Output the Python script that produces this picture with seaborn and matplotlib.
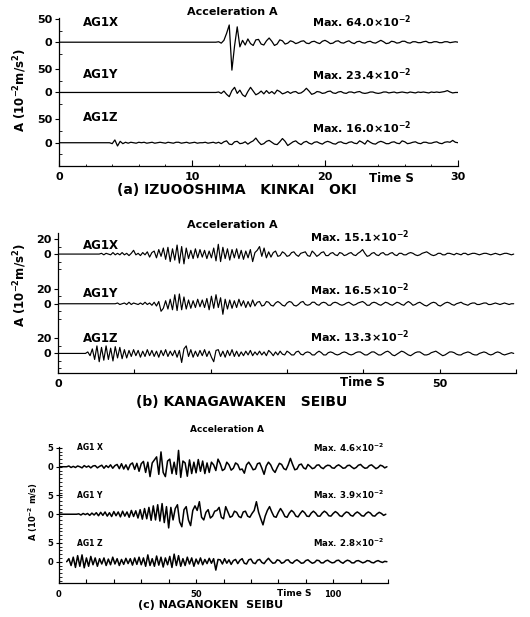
import numpy as np
import pandas as pd
import matplotlib
matplotlib.use("Agg")
import matplotlib.pyplot as plt
import seaborn as sns

# ---------------- data (10^-2 m/s^2 ; panel c: 10^-2 m/s) ----------------
trace_names = ["AG1X", "AG1Y", "AG1Z"]
trace_names_c = ["AG1 X", "AG1 Y", "AG1 Z"]

a_max = ["64.0", "23.4", "16.0"]
b_max = ["15.1", "16.5", "13.3"]
c_max = ["4.6", "3.9", "2.8"]

a_dt = 0.2
a_onset = [11.8, 11.8, 3.8]
a_x = [0, 1, -2, 4, 19, 37, -60, -8, 33, -10,
       4, -6, 7, -3, -7, 5, 6, -4, -6, 3,
       9, 2, -7, -4, 5, 3, -4, -2, 3, 1,
       -3, -1, 2, 3, -2, -3, 1, 2, -1, -3,
       2, 4, 1, -3, -2, 2, 3, -1, -2, 1,
       3, -1, -3, 1, 2, -1, -2, 1, 2, -1,
       -2, 1, 4, 1, -3, -2, 2, 1, -2, -1,
       2, 2, -1, -2, 1, 1, -1, -1, 1, 2,
       -1, -1, 1, 1, -1, -1, 1, 1, -1, 0,
       1, 0]
a_y = [0, 1, -2, 3, -4, -9, 4, 11, -2, 5,
       -5, -9, 2, 11, 3, -5, -2, 3, -3, 4,
       -2, 2, -3, 5, 2, -3, -1, 2, -2, 1,
       2, -2, -1, 3, 9, 3, -4, -2, 2, 1,
       -2, -1, 2, 3, -1, -2, 1, 2, -1, -2,
       1, 1, -1, 1, 2, -1, -2, -1, 1, 1,
       -1, -2, -1, 1, 1, -1, 0, 1, -1, 0,
       1, 0, -1, 1, 0, -1, 1, 0, 1, 0,
       -1, 1, 0, 1, 0, 1, 2, 4, 1, -1,
       0, 0]
a_z = [0, -2, 6, -7, 3, -2, 1, -1, 1, 0,
       -1, 1, 0, 1, -1, 0, 1, -1, 0, 1,
       0, -1, 1, 0, -1, 1, 1, -1, 0, 1,
       -1, 0, 1, -1, 0, 0, 1, -1, 0, 1,
       -1, 1, -2, 2, 4, -3, -4, 2, 3, -2,
       -1, 2, -3, 1, 4, 10, 2, -4, -2, 3,
       5, 1, -3, -4, 2, 9, 3, -6, -2, 2,
       4, -1, -4, 1, 3, -1, -3, 1, 2, -1,
       -3, 1, 3, 1, -2, -3, 1, 2, -1, -2,
       1, 2, -1, -2, 4, 1, -3, 5, 1, -2,
       -3, 1, 3, 1, -2, -2, 1, 2, -1, -2,
       4, 2, -2, -1, 1, 2, -1, -2, 1, 1,
       -1, -1, 1, 2, -1, -2, 1, 2, 1, 5,
       1, 0]

b_dt = 0.3
b_onset = [5.4, 7.5, 3.6]
b_x = [0, 1, -1, 1, 0, -1, 2, -1, 1, -1,
       2, -1, 1, -2, 1, 5, -1, 1, -2, 2,
       -1, 3, -4, 2, 4, -5, 6, -3, 8, -7,
       9, -10, 7, -8, 12, -12, 10, -13, 8, -6,
       5, -6, 7, -5, 6, -4, 5, -6, 4, -5,
       8, -9, 13, -10, 9, -6, 7, -8, 6, -5,
       7, -6, 5, -7, 4, -5, 6, -10, 2, 5,
       10, -3, 8, -5, 3, -4, 2, 4, -3, -2,
       3, 1, -3, -2, 2, 3, -1, -3, 1, 2,
       3, -2, -3, 4, 1, -3, -1, 2, 3, -2,
       -2, 1, 2, -1, -2, 2, 1, -2, -1, 1,
       2, -1, -2, 1, 3, 6, 1, -3, -2, 1,
       2, -1, -2, 1, 2, -1, -1, 1, 2, -1,
       -2, 1, 1, -1, -1, 1, 2, 1, -1, -2,
       -1, 1, 2, 3, 1, -1, -2, -1, 1, 1,
       -1, -1, 1, 1, 0, -1, 1, 0, -1, 1,
       1, -1, 0, 1, 1, 0, -1, 0, 1, 1,
       0, -1, 0, 1, 0, -1, 0, 1, 1, 0,
       -1, 0]
b_y = [0, 1, -1, 0, 1, -1, 2, -1, 1, 0,
       -1, 1, -1, 2, -1, 1, -2, 2, -3, 3,
       -10, -6, 4, -7, 6, -8, 12, -9, 13, -8,
       9, -7, 5, -6, 4, -5, 6, -4, 5, -5,
       7, -8, 10, -6, 12, -5, 8, -14, 6, -7,
       5, -6, 4, -5, 6, -3, 4, -5, 3, -4,
       5, -3, 2, 3, -3, -2, 3, 2, -2, -3,
       1, 3, 1, -2, -3, 1, 3, 2, -2, -3,
       -1, 2, 3, -1, -2, -1, 2, 2, -1, -2,
       1, 2, 1, -2, -2, 1, 2, 1, -1, -2,
       -1, 1, 2, 0, -2, -1, 1, 2, 3, 1,
       -2, -2, 1, 2, 1, -1, -2, 0, 2, 1,
       -1, -2, 0, 2, 1, -1, -2, 1, 3, 1,
       -2, -1, 1, 2, 0, -2, -3, -1, 1, 2,
       1, -2, -3, -1, 1, 2, 1, -1, -2, 0,
       1, 2, 0, -1, -2, 0, 1, 1, -1, -1,
       0, 1, 1, -1, -1, 0, 1, 0, -1, 0,
       1, 0, -1, 0, 0]
b_z = [0, 2, -3, 6, -8, 10, -11, 8, -9, 10,
       -8, 7, -10, 9, -6, 8, -7, 5, -6, 4,
       -4, 5, -3, 4, -5, 3, -4, 5, -3, 4,
       -4, 3, -5, 4, -3, 5, -4, 3, -3, 4,
       -5, 4, -12, 6, 10, -4, 5, -5, 3, -4,
       4, -3, 5, -4, 3, -5, -11, 4, 5, -4,
       3, -5, 4, -3, 5, -4, 3, -4, 2, -3,
       3, -2, 4, -3, 2, -2, 3, -2, 2, -3,
       4, 1, -3, 2, -2, 3, -1, -2, 3, 1,
       -2, -2, 2, 3, -1, -2, 1, 2, 1, -2,
       -2, 1, 3, 1, -2, -2, 1, 2, 1, -1,
       -2, -1, 1, 2, 1, -1, -2, -1, 1, 2,
       2, 0, -2, -2, 0, 2, 2, 0, -2, -2,
       0, 2, 3, 1, -2, -3, -1, 1, 3, 2,
       0, -2, -3, -1, 1, 2, 2, 0, -2, -2,
       -1, 1, 2, 3, 1, -1, -3, -2, 0, 2,
       2, 1, -1, -2, -2, 0, 1, 2, 1, -1,
       -2, -2, 0, 1, 2, 1, -1, -2, -1, 1,
       2, 1, -1, -2, -1, 0, 1, 0]

c_dt = 0.8
c_onset = [2.8, 6.4, 2.8]
c_start = [0.0, 0.0, 2.8]
c_x = [0, 0.2, -0.2, 0.1, -0.2, 0.2, 0, -0.3, 0.3, -0.1,
       0.2, -0.3, 0.2, 0.3, -0.3, 0.1, 0.4, -0.4, 0.3, -0.2,
       0.5, -0.4, 0.3, 0.6, -0.5, 0.8, -0.6, 0.5, -0.8, 0.6,
       1.0, -0.7, 0.9, -1.2, 0.8, 1.4, -1.5, 1.2, -2.6, 1.0,
       1.8, 2.6, -2.0, 3.9, -1.5, -2.6, 1.5, 2.0, -1.8, 1.2,
       -2.0, 4.3, -2.8, 1.5, 1.0, -2.5, 1.8, -1.8, 1.2, -1.6,
       1.9, -1.2, 1.5, -1.8, 1.0, -1.5, 1.2, 0.5, -1.0, 2.0,
       0.8, -1.0, -0.6, 1.2, 0.5, -0.9, -0.4, 1.0, 0.6, -0.8,
       -0.6, -1.7, 0.5, 1.2, 0.3, -0.8, -0.6, 0.8, 1.0, -0.4,
       -2.0, 0.2, 1.2, 0.5, -0.8, -1.5, -0.2, 0.9, 0.6, -0.5,
       -0.8, 0.5, 2.2, 0.6, -0.8, -0.6, 0.5, 0.7, -0.3, -0.6,
       0.6, 0.1, -0.5, -0.3, 0.4, 0.5, -0.2, -0.5, 0.1, 0.4,
       0.3, -0.3, -0.4, 0.2, 0.5, 0.1, -0.4, -0.3, 0.3, 0.4,
       -0.1, -0.5, -0.2, 0.4, 0.6, 0.0, -0.4, -0.3, 0.3, 0.5,
       0.0, -0.5, -0.2, 0.4, 0.2, -0.3, 0]
c_y = [0, 0.1, -0.2, 0.2, -0.1, 0.2, -0.3, 0.3, -0.2, 0.4,
       -0.4, 0.5, -0.3, 0.6, -0.5, 0.4, -0.6, 0.7, -0.4, 0.6,
       -0.7, 0.8, -0.5, 0.6, -0.8, 1.0, -0.6, 0.9, -1.0, 1.2,
       -1.3, 1.5, -1.2, 1.8, -1.6, 2.2, -1.5, 2.5, -1.8, 2.8,
       -2.2, 2.0, -3.6, 1.8, -1.5, 1.5, 2.5, -2.0, -3.3, 1.2,
       2.0, -1.5, -3.0, 1.0, 2.2, 1.0, 3.3, -0.8, -1.5, 0.5,
       1.2, -1.0, -0.5, 0.8, 1.0, 1.8, -0.8, -1.2, 2.0, 0.6,
       -0.8, -0.5, 0.8, 0.5, -0.6, -0.9, 0.6, 0.8, -0.5, -0.8,
       0.2, 1.0, 3.3, 0.5, -1.2, -2.8, -0.5, 1.0, 2.0, 0.6,
       -0.6, -0.8, 0.5, 1.5, 0.6, -0.6, -0.8, 0.3, 1.0, 0.5,
       -0.5, -0.7, 0.2, 0.9, 0.4, -0.5, -0.6, 0.3, 0.8, 0.3,
       -0.5, -0.5, 0.3, 0.8, 0.4, -0.4, -0.5, 0.2, 0.7, 0.3,
       -0.4, -0.6, 0.1, 0.6, 0.4, -0.3, -0.5, 0.2, 0.6, 0.2,
       -0.4, -0.5, 0.2, 0.6, 0.3, -0.4, -0.5, 0.1, 0.5, 0.2,
       -0.3, 0]
c_z = [0, 0.8, -1.0, 1.2, -1.5, 1.6, -1.2, 1.8, -1.6, 1.0,
       -1.2, 1.4, -0.8, 1.0, -1.2, 0.8, -0.6, 1.0, -1.0, 0.7,
       -0.8, 1.2, -0.6, 0.8, -1.0, 0.6, -0.7, 0.9, -0.5, 0.8,
       -0.9, 1.0, -0.7, 1.2, -0.8, 1.0, -1.2, 1.8, -1.0, 0.8,
       -1.2, 1.5, -0.9, 1.2, -1.4, 1.0, -0.8, 1.4, -1.5, 2.0,
       -1.0, 1.6, -1.2, 0.8, -1.0, 1.2, -0.6, 1.0, -1.2, 0.7,
       -0.6, 1.0, -0.8, 0.6, -0.5, 0.9, -0.4, 0.8, -2.2, 0.6,
       0.5, -0.6, 0.8, -0.4, 0.5, -0.7, 0.3, 0.6, -0.5, 0.4,
       0.8, -0.4, -0.6, 0.5, 0.7, -0.3, -0.5, 0.4, 0.6, -0.2,
       -0.5, 0.3, 0.9, 0.2, -0.4, -0.3, 0.5, 0.3, -0.4, -0.2,
       0.4, 0.5, -0.2, -0.4, 0.2, 0.5, 0.1, -0.4, -0.3, 0.3,
       0.5, 0.0, -0.4, -0.2, 0.4, 0.3, -0.3, -0.3, 0.2, 0.4,
       0.0, -0.3, -0.2, 0.3, 0.4, -0.1, -0.4, 0.1, 0.4, 0.2,
       -0.3, -0.3, 0.2, 0.3, 0.0, -0.3, -0.1, 0.3, 0.2, -0.2,
       -0.3, 0.1, 0.3, 0.0, -0.2, 0.1, 0]

# ---------------- style ----------------
sns.set_style("ticks")
plt.rcParams['font.family'] = ['DejaVu Sans']
plt.rcParams['font.weight'] = 'bold'
plt.rcParams['mathtext.default'] = 'regular'
plt.rcParams['axes.linewidth'] = 0.9
for key in ['text.color', 'axes.labelcolor', 'xtick.color', 'ytick.color',
            'axes.edgecolor', 'xtick.labelcolor', 'ytick.labelcolor']:
    plt.rcParams[key] = 'black'

W, H = 530, 617
fig = plt.figure(figsize=(W / 100, H / 100), dpi=100)


def px_axes(l, r, t, b):
    return fig.add_axes([l / W, 1 - b / H, (r - l) / W, (b - t) / H])


def ftext(x, y, s, **kw):
    kw.setdefault('fontweight', 'bold')
    kw.setdefault('color', 'black')
    return fig.text(x / W, 1 - y / H, s, **kw)


def build(vals_list, onsets, dt, offsets, starts):
    frames = []
    for k, (vals, on, off, st) in enumerate(zip(vals_list, onsets, offsets, starts)):
        v = np.asarray(vals, dtype=float)
        t = on + dt * np.arange(len(v))
        if st < on:
            t = np.concatenate([[st], t])
            v = np.concatenate([[0.0], v])
        frames.append(pd.DataFrame({'t': t, 'v': v + off, 'trace': k}))
    return pd.concat(frames, ignore_index=True)


def panel(ax, df, xlim, ylim, lw):
    sns.lineplot(data=df, x='t', y='v', units='trace', estimator=None,
                 sort=False, color='black', lw=lw, ax=ax, legend=False)
    ax.set_xlim(*xlim)
    ax.set_ylim(*ylim)
    ax.set_xlabel('')
    ax.set_ylabel('')
    for s in ['top', 'right']:
        ax.spines[s].set_visible(False)
    for s in ['left', 'bottom']:
        ax.spines[s].set_color('black')


# ---------------- panel (a) ----------------
off_a = [0, -108, -216]
ax_a = px_axes(59, 458, 18, 166)
df_a = build([a_x, a_y, a_z], a_onset, a_dt, off_a, [0, 0, 0])
panel(ax_a, df_a, (0, 30), (-266, 52), 0.9)
yt = []
yl = []
for o in off_a:
    yt += [o + 50, o]
    yl += ['50', '0']
ax_a.set_yticks(yt)
ax_a.set_yticklabels(yl)
ax_a.set_yticks([o - 25 for o in off_a] + [o + 25 for o in off_a] + [-266], minor=True)
ax_a.set_xticks([0, 10, 20, 30])
ax_a.set_xticklabels(['0', '10', '20', '30'])
ax_a.set_xticks(np.arange(0, 31, 2), minor=True)
ax_a.tick_params(axis='y', which='major', direction='out', length=3, width=0.8, pad=2, labelsize=8)
ax_a.tick_params(axis='y', which='minor', direction='in', length=2, width=0.6)
ax_a.tick_params(axis='x', which='major', direction='in', length=4, width=0.8, pad=4.5, labelsize=8)
ax_a.tick_params(axis='x', which='minor', direction='in', length=1.5, width=0.6)

ftext(232, 12, 'Acceleration A', ha='center', va='center', fontsize=8)
for name, ylab in zip(trace_names, [23, 75, 118]):
    ftext(83, ylab, name, ha='left', va='center', fontsize=8.5)
for mx, ylab in zip(a_max, [22, 75, 128]):
    ftext(312, ylab, 'Max. ' + mx + '×10$^{-2}$', ha='left', va='center', fontsize=8)
ftext(20, 90, 'A (10$^{-2}$m/s$^{2}$)', ha='center', va='center', rotation=90, fontsize=8.5)
ftext(391, 179, 'Time S', ha='center', va='center', fontsize=8.5)
ftext(237, 190, '(a) IZUOOSHIMA   KINKAI   OKI', ha='center', va='center', fontsize=10)

# ---------------- panel (b) ----------------
off_b = [0, -66, -132]
ax_b = px_axes(58, 516, 233, 373)
df_b = build([b_x, b_y, b_z], b_onset, b_dt, off_b, [0, 0, 0])
panel(ax_b, df_b, (0, 60), (-158, 28), 0.85)
yt = []
yl = []
for o in off_b:
    yt += [o + 20, o]
    yl += ['20', '0']
ax_b.set_yticks(yt)
ax_b.set_yticklabels(yl)
ax_b.set_yticks([o - 20 for o in off_b] + [o + 10 for o in off_b] + [o - 10 for o in off_b], minor=True)
ax_b.set_xticks(np.arange(0, 61, 10))
ax_b.set_xticklabels(['0', '', '', '', '', '50', ''])
ax_b.tick_params(axis='y', which='major', direction='out', length=3, width=0.8, pad=2, labelsize=8)
ax_b.tick_params(axis='y', which='minor', direction='in', length=2, width=0.6)
ax_b.tick_params(axis='x', which='major', direction='in', length=3, width=0.8, pad=4.5, labelsize=8)

ftext(232, 225, 'Acceleration A', ha='center', va='center', fontsize=8)
for name, ylab in zip(trace_names, [245, 293, 339]):
    ftext(83, ylab, name, ha='left', va='center', fontsize=8.5)
for mx, ylab in zip(b_max, [237, 290, 337]):
    ftext(310, ylab, 'Max. ' + mx + '×10$^{-2}$', ha='left', va='center', fontsize=8)
ftext(20, 285, 'A (10$^{-2}$m/s$^{2}$)', ha='center', va='center', rotation=90, fontsize=8.5)
ftext(362, 383, 'Time S', ha='center', va='center', fontsize=8.5)
ftext(242, 402, '(b) KANAGAWAKEN   SEIBU', ha='center', va='center', fontsize=10)

# ---------------- panel (c) ----------------
off_c = [0, -12.5, -25]
ax_c = px_axes(59, 388, 446.6, 583)
df_c = build([c_x, c_y, c_z], c_onset, c_dt, off_c, c_start)
panel(ax_c, df_c, (0, 120), (-30.6, 5.3), 1.1)
yt = []
yl = []
for o in off_c:
    yt += [o + 5, o]
    yl += ['5', '0']
ax_c.set_yticks(yt)
ax_c.set_yticklabels(yl)
ax_c.set_yticks(np.arange(-30, 5.5, 1.0), minor=True)
ax_c.set_xticks(np.arange(0, 121, 10))
ax_c.set_xticklabels(['0', '', '', '', '', '50', '', '', '', '', '100', '', ''])
ax_c.tick_params(axis='y', which='major', direction='inout', length=4, width=0.8, pad=2, labelsize=6)
ax_c.tick_params(axis='y', which='minor', direction='in', length=2, width=0.6)
ax_c.tick_params(axis='x', which='major', direction='in', length=3, width=0.8, pad=5, labelsize=6)

ftext(227, 429, 'Acceleration A', ha='center', va='center', fontsize=6.5)
for name, ylab in zip(trace_names_c, [448, 495, 543]):
    ftext(77, ylab, name, ha='left', va='center', fontsize=5.5)
for mx, ylab in zip(c_max, [448, 495, 543]):
    ftext(313, ylab, 'Max. ' + mx + '×10$^{-2}$', ha='left', va='center', fontsize=6.2)
ftext(33, 511, 'A (10$^{-2}$ m/s)', ha='center', va='center', rotation=90, fontsize=6)
ftext(294, 594, 'Time S', ha='center', va='center', fontsize=6.5)
ftext(211, 605, '(c) NAGANOKEN  SEIBU', ha='center', va='center', fontsize=8)

fig.savefig('out.png', dpi=100)
